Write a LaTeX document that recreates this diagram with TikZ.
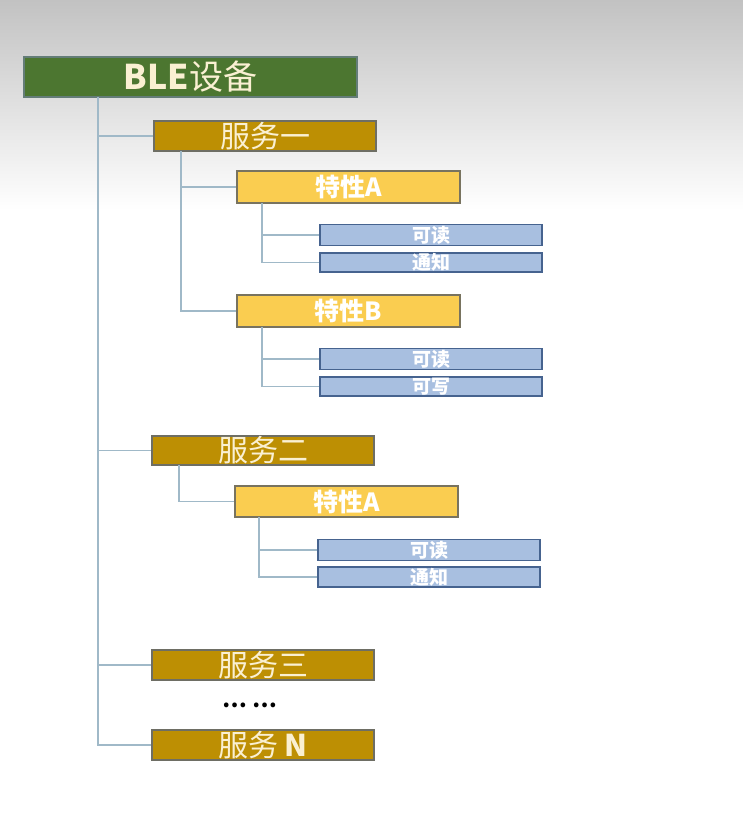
\documentclass[tikz,border=0pt]{standalone}
\usepackage{fontspec}
\setmainfont{Noto Sans CJK SC}
\definecolor{cgreen}{RGB}{76,118,48}
\definecolor{cgreenb}{RGB}{100,125,120}
\definecolor{cgold}{RGB}{189,143,3}
\definecolor{cgoldb}{RGB}{110,110,100}
\definecolor{cyel}{RGB}{250,205,80}
\definecolor{cyelb}{RGB}{120,115,95}
\definecolor{cblue}{RGB}{168,191,224}
\definecolor{cblueb}{RGB}{70,99,143}
\definecolor{cline}{RGB}{160,185,200}
\definecolor{ccream}{RGB}{250,240,210}
\definecolor{cbgtop}{RGB}{194,194,194}
\begin{document}
\begin{tikzpicture}[x=1pt,y=-1pt,
  box/.style={line width=1.2pt, inner sep=0pt, text depth=0pt},
  rootbox/.style={box, fill=cgreen, draw=cgreenb, minimum width=333pt, minimum height=40pt, text=ccream, text height=25.8pt, font=\fontsize{34}{36}\selectfont},
  svcbox/.style={box, fill=cgold, draw=cgoldb, minimum width=222pt, minimum height=30pt, text=ccream, text height=22.8pt, font=\fontsize{30}{32}\selectfont},
  chrbox/.style={box, fill=cyel, draw=cyelb, minimum width=223pt, minimum height=32pt, text=white, text height=19pt, font=\fontsize{25}{27}\selectfont\bfseries},
  propbox/.style={box, fill=cblue, draw=cblueb, minimum width=222pt, minimum height=21pt, text=white, text height=14pt, font=\fontsize{19}{21}\selectfont\bfseries},
  conn/.style={draw=cline, line width=1.3pt}
]
\useasboundingbox (0,0) rectangle (743,821);
\fill[white] (0,0) rectangle (743,821);
\shade[top color=cbgtop, bottom color=white] (0,0) rectangle (743,210);

% nodes
\node[rootbox] (root) at (190.5,77) {\textbf{BLE}设备};
\node[svcbox] (s1) at (265,136) {服务一};
\node[chrbox] (c1) at (348.5,187) {特性A};
\node[propbox] (p11) at (431,235) {可读};
\node[propbox, minimum height=19pt] (p12) at (431,262.5) {通知};
\node[chrbox] (c2) at (348.5,311) {特性B};
\node[propbox] (p21) at (431,359) {可读};
\node[propbox, minimum height=19pt] (p22) at (431,386.5) {可写};
\node[svcbox, minimum height=29pt] (s2) at (263,450.5) {服务二};
\node[chrbox, minimum height=31pt] (c3) at (346.5,501.5) {特性A};
\node[propbox] (p31) at (429,550) {可读};
\node[propbox, minimum height=20pt] (p32) at (429,577) {通知};
\node[svcbox] (s3) at (263,665) {服务三};
\node[font=\fontsize{22}{24}\selectfont\bfseries, text=black] (dots) at (250,705) {… …};
\node[svcbox] (sN) at (263,745) {服务 \textbf{N}};

% trunk coordinates
\coordinate (t0) at (98,97);
\coordinate (t1) at (181,151);
\coordinate (t2) at (262,203);
\coordinate (t3) at (262,327);
\coordinate (t4) at (179,465);
\coordinate (t5) at (259,517);

\draw[conn] (t0) |- (sN.west);
\draw[conn] (t0 |- s1.west) -- (s1.west);
\draw[conn] (t0 |- s2.west) -- (s2.west);
\draw[conn] (t0 |- s3.west) -- (s3.west);

\draw[conn] (t1) |- (c2.west);
\draw[conn] (t1 |- c1.west) -- (c1.west);

\draw[conn] (t2) |- (p12.west);
\draw[conn] (t2 |- p11.west) -- (p11.west);

\draw[conn] (t3) |- (p22.west);
\draw[conn] (t3 |- p21.west) -- (p21.west);

\draw[conn] (t4) |- (c3.west);

\draw[conn] (t5) |- (p32.west);
\draw[conn] (t5 |- p31.west) -- (p31.west);
\end{tikzpicture}
\end{document}
